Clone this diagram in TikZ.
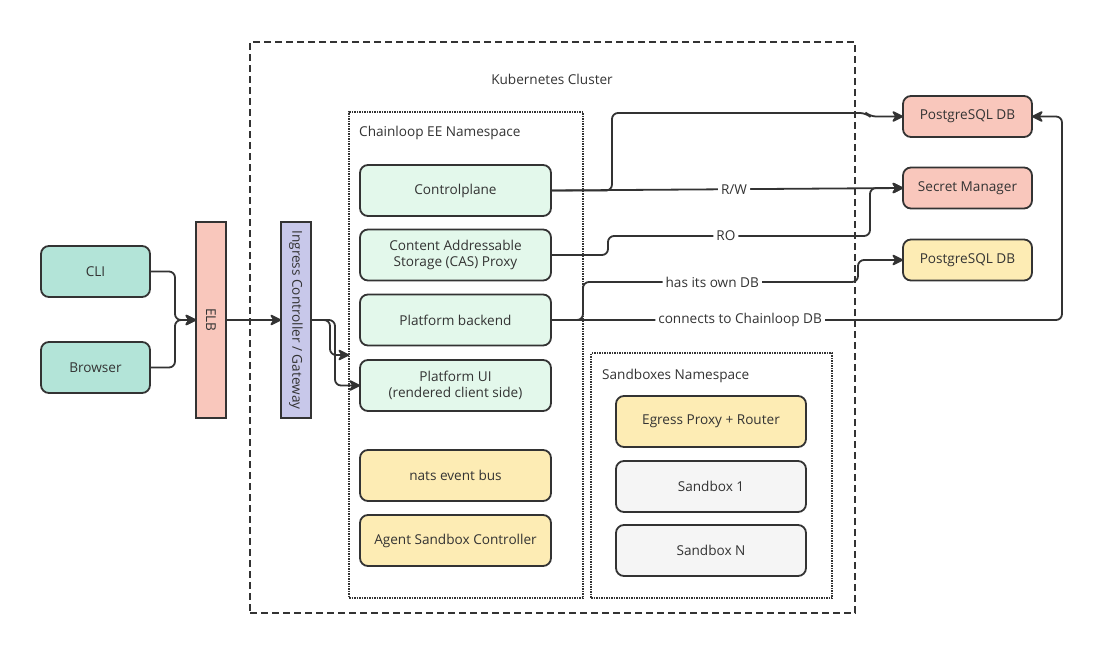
\documentclass[tikz,border=0pt]{standalone}
\usepackage{fontspec}
\setmainfont{Open Sans}
\usetikzlibrary{arrows.meta}
\definecolor{ink}{HTML}{333333}
\definecolor{tealbox}{HTML}{B3E4D8}
\definecolor{mintbox}{HTML}{E3F8EB}
\definecolor{sandbox}{HTML}{FDECB4}
\definecolor{greybox}{HTML}{F5F5F5}
\definecolor{salmon}{HTML}{F9C7BC}
\definecolor{lavender}{HTML}{C8C8EA}
\begin{document}
\begin{tikzpicture}[x=1pt, y=-1pt,
	font=\fontsize{13.6}{16.5}\selectfont, text=ink,
	box/.style={draw=ink, line width=1.8pt, rounded corners=8pt, align=center, inner sep=0pt, outer sep=0pt},
	svc/.style={box, fill=mintbox, minimum width=191, minimum height=51},
	infra/.style={box, fill=sandbox, minimum width=191, minimum height=51},
	sbx/.style={box, fill=greybox, minimum width=190, minimum height=51},
	client/.style={box, fill=tealbox, minimum width=109, minimum height=51},
	extern/.style={box, minimum width=129, minimum height=41},
	bar/.style={draw=ink, line width=1.8pt, minimum width=30, minimum height=196, inner sep=0pt, outer sep=0pt},
	zone/.style={draw=ink, line width=1.5pt, inner sep=0pt, outer sep=0pt},
	conn/.style={draw=ink, line width=1.8pt, rounded corners=6pt, -{Stealth[length=13pt,width=13pt,inset=4pt,round]}},
	lbl/.style={fill=white, inner sep=3pt}]
	\useasboundingbox (0,0) rectangle (1102,648);
	% cluster and namespaces
	\node[zone, dash pattern=on 7pt off 4pt, minimum width=605, minimum height=571] (k8s) at (552.5,327.5) {};
	\node (k8slbl) at (552,79) {Kubernetes Cluster};
	\node[zone, densely dotted, minimum width=234, minimum height=486] (eens) at (466,355) {};
	\node[anchor=west, inner sep=0pt] (eenslbl) at (359,133) {Chainloop EE Namespace};
	\node[zone, densely dotted, minimum width=241, minimum height=245] (sbns) at (711.5,475.5) {};
	\node[anchor=west, inner sep=0pt] (sbnslbl) at (602,376) {Sandboxes Namespace};
	% clients and entry
	\node[client] (cli) at (95.5,271.5) {CLI};
	\node[client] (browser) at (95.5,367.5) {Browser};
	\node[bar, fill=salmon, label={[rotate=-90]center:ELB}] (elb) at (211,320) {};
	\node[bar, fill=lavender, label={[rotate=-90]center:Ingress Controller / Gateway}] (ing) at (296,320) {};
	% chainloop services
	\node[svc] (cp) at (455.5,190.5) {Controlplane};
	\node[svc] (cas) at (455.5,255) {Content Addressable\\Storage (CAS) Proxy};
	\node[svc] (pb) at (455.5,320) {Platform backend};
	\node[svc] (ui) at (455.5,385.5) {Platform UI\\(rendered client side)};
	\node[infra] (nats) at (455.5,475.5) {nats event bus};
	\node[infra] (asc) at (455.5,540.5) {Agent Sandbox Controller};
	% sandboxes
	\node[infra, minimum width=190] (egress) at (711,421.5) {Egress Proxy + Router};
	\node[sbx] (sb1) at (711,486.5) {Sandbox 1};
	\node[sbx] (sbn) at (711,550.5) {Sandbox N};
	% external stores
	\node[extern, fill=salmon] (pg1) at (967.5,116.5) {PostgreSQL DB};
	\node[extern, fill=salmon] (sm) at (967.5,188) {Secret Manager};
	\node[extern, fill=sandbox] (pg2) at (967.5,260) {PostgreSQL DB};
	% connectors
	\coordinate (join) at (175,320);
	\coordinate (nsin) at (349,355);
	\draw[conn] (cli.east) -| (join) -- (elb.west);
	\draw[conn] (browser.east) -| (join) -- (elb.west);
	\draw[conn] (elb.east) -- (ing.west);
	\draw[conn] (ing.east) -- (330,320) -- (330,355) -- (nsin);
	\draw[conn] (ing.east) -- (335,320) -- (335,385.5) -- (ui.west);
	\draw[conn] (cp.east) -- (612,190.5) -- (612,113) -- (866,113) -- (870,116.5) -- (pg1.west);
	\draw[conn] (cp.east) -- node[lbl, pos=.52] {R/W} (sm.west);
	\draw[conn] (cas.east) -- (608,255) -- (608,236) -- node[lbl, pos=.45] {RO} (870,236) -- (870,188) -- (sm.west);
	\draw[conn] (pb.east) -- (583,320) -- (583,282) -- node[lbl, pos=.47] {has its own DB} (858,282) -- (858,260) -- (pg2.west);
	\draw[conn] (pb.east) -- node[lbl, pos=.37] {connects to Chainloop DB} (1062,320) -- (1062,116.5) -- (pg1.east);
\end{tikzpicture}
\end{document}
